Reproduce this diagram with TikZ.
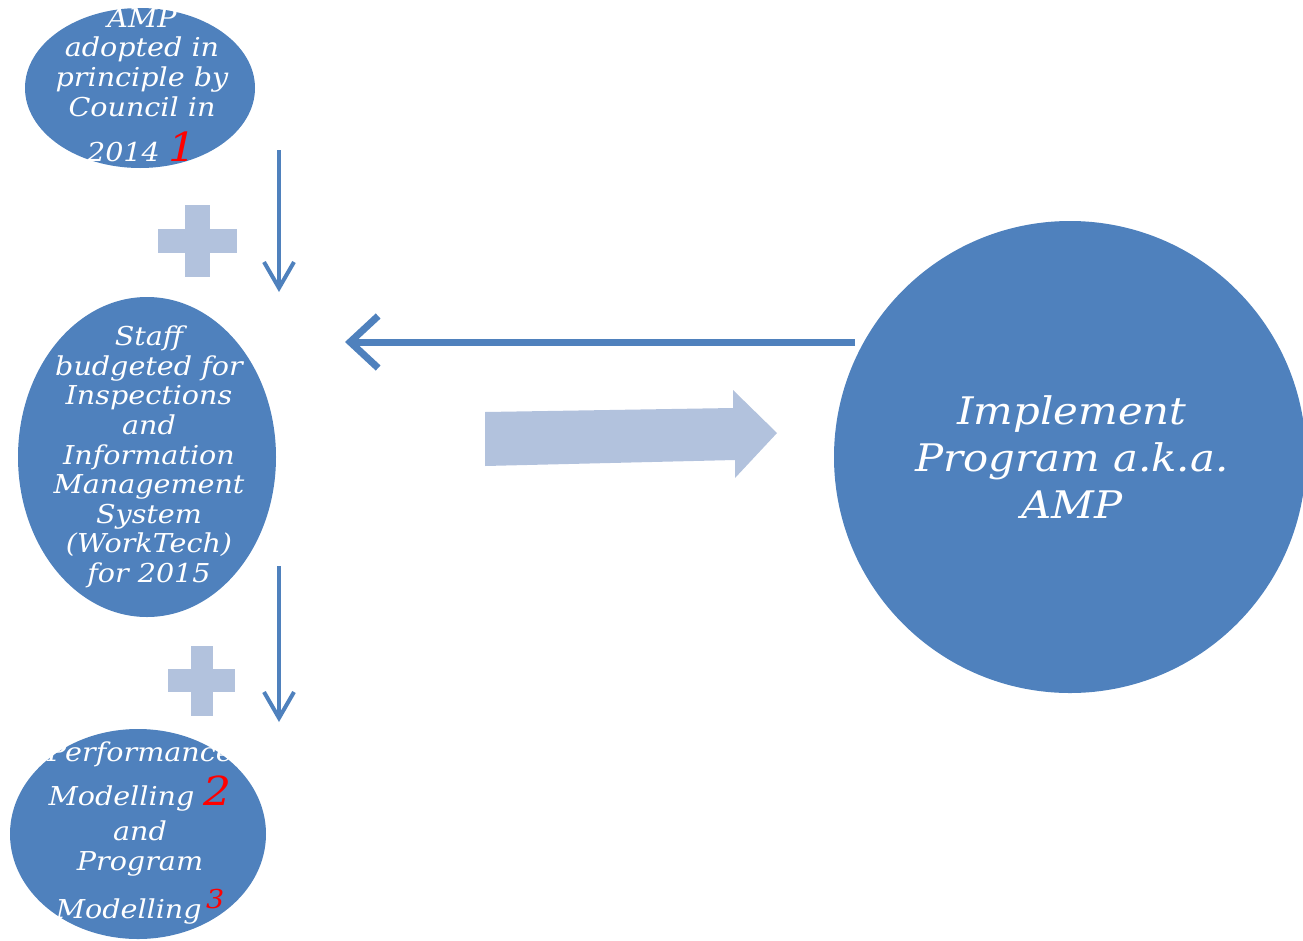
\documentclass[tikz,border=0pt]{standalone}
\usepackage{fontspec}
\setmainfont{DejaVu Serif}[FakeStretch=1.1]
\usetikzlibrary{arrows.meta,shapes.geometric}
\definecolor{mainblue}{HTML}{4F81BD}
\definecolor{lightblue}{HTML}{B2C2DD}
\begin{document}
\begin{tikzpicture}[x=1pt,y=-1pt,
  bubble/.style={ellipse,fill=mainblue,inner sep=0pt},
  txt/.style={text=white,align=center,font=\fontsize{26}{29.6}\selectfont\itshape},
  bigtxt/.style={text=white,align=center,font=\fontsize{38}{47}\selectfont\itshape},
  flow/.style={draw=mainblue,line width=4pt,-{Straight Barb[length=26pt,width=30pt]}},
  back/.style={draw=mainblue,line width=7pt,-{Straight Barb[length=28pt,width=52pt]}},
  plusbar/.style={fill=lightblue}]
\useasboundingbox (0,0) rectangle (1303,940);
% bubbles
\node[bubble,minimum width=230pt,minimum height=160pt] (e1) at (140,88) {};
\node[bubble,minimum width=258pt,minimum height=320pt] (e2) at (147,457) {};
\node[bubble,minimum width=256pt,minimum height=210pt] (e3) at (138,834) {};
\node[bubble,minimum width=472pt,minimum height=472pt] (big) at (1070,457) {};
% texts
\node[txt] (t1) at (142,85) {AMP\\adopted in\\principle by\\Council in\\[14pt]2014 {\color{red}\fontsize{40}{40}\selectfont 1}};
\node[txt] (t2) at (149,457) {Staff\\budgeted for\\Inspections\\and\\Information\\Management\\System\\(WorkTech)\\for 2015};
\node[txt] (t3) at (140,833) {Performance\\[8pt]Modelling {\color{red}\fontsize{40}{40}\selectfont 2}\\[5pt]and\\Program\\[12pt]Modelling\,\raisebox{10pt}{\color{red}\fontsize{26}{26}\selectfont 3}};
\node[bigtxt] (t4) at (1072,457) {Implement\\Program a.k.a.\\AMP};
% plus signs
\fill[plusbar] (158,229) rectangle (237,253);
\fill[plusbar] (185,205) rectangle (210,277);
\fill[plusbar] (168,669) rectangle (235,692);
\fill[plusbar] (191,646) rectangle (213,716);
% down arrows
\coordinate (a1s) at (279,150);
\coordinate (a1e) at (279,292);
\coordinate (a2s) at (279,566);
\coordinate (a2e) at (279,722);
\draw[flow] (a1s) -- (a1e);
\draw[flow] (a2s) -- (a2e);
% back arrow
\coordinate (bs) at (855,342);
\coordinate (be) at (345,342);
\draw[back] (bs) -- (be);
% block arrow
\fill[lightblue] (485,412) -- (733,408) -- (733,390) -- (777,433) -- (735,478) -- (735,460) -- (485,466) -- cycle;
\end{tikzpicture}
\end{document}
